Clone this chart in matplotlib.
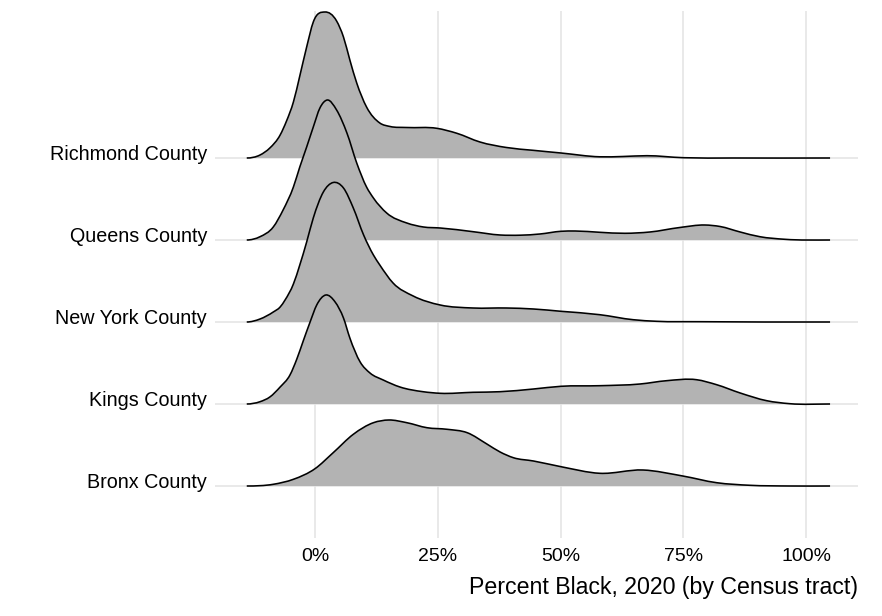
import numpy as np
import matplotlib
matplotlib.use("Agg")
import matplotlib.pyplot as plt
from matplotlib.path import Path
from matplotlib.patches import PathPatch
import matplotlib.transforms as mtransforms

plt.rcParams['font.family'] = ['Liberation Sans', 'DejaVu Sans']

# ---- data ----
counties = ["Bronx County", "Kings County", "New York County", "Queens County", "Richmond County"]
tick_values = [0, 25, 50, 75, 100]
tick_labels = ["0%", "25%", "50%", "75%", "100%"]
x_title = "Percent Black, 2020 (by Census tract)"

# percent Black (x) and estimated density height of each ridge
richmond_x = [-13.9, -11.2, -9.2, -7.1, -5.8, -4.4, -3.1, -1.7, -0.35, 2.0, 4.4, 5.8, 7.1, 8.5,
              10.5, 13.2, 15.3, 18.7, 24.8, 28.9, 33.6, 39.0, 44.4, 50.1, 58.0, 62.7, 67.6,
              75.0, 85.0, 104.9]
richmond_d = [0, 3, 10, 23, 37, 56, 82, 111, 136, 146, 137, 121, 98, 75,
              51, 35, 31.5, 30.5, 29.7, 24.7, 16, 10.5, 7.7, 5, 1.2, 1.5, 2.3,
              0.3, 0, 0]

queens_x = [-13.9, -11.2, -8.5, -6.5, -4.4, -3.1, -1.7, -0.35, 1.0, 2.5, 4.4, 6.5, 8.5, 10.5,
            11.9, 14.6, 18.7, 22.1, 25.5, 32.2, 37.7, 41.8, 45.8, 50.1, 53.0, 58.0, 63.1,
            68.2, 74.3, 79.4, 82.5, 86.6, 90.6, 95.7, 104.9]
queens_d = [0, 3.3, 13, 30, 53, 73, 93, 113, 132, 140, 130, 107, 77, 53,
            42, 27, 17, 13, 12, 8.3, 5, 4.8, 6, 8.7, 9, 7.7, 6.7,
            8, 12.5, 15, 13.5, 8, 3.3, 0.7, 0]

newyork_x = [-13.9, -11.2, -8.5, -7.1, -6.1, -4.4, -3.1, -1.7, -0.35, 1.7, 3.7, 5.8, 7.8, 9.9,
             11.9, 13.2, 15.9, 20.0, 25.5, 32.2, 39.0, 44.5, 50.1, 58.0, 64.8, 69.6, 78.4, 104.9]
newyork_d = [0, 3, 10, 15, 22, 38, 57, 80, 104, 130, 139.5, 134, 114, 87,
             67, 57, 39, 26, 17, 14, 14, 13, 10.7, 7.3, 2.3, 0.7, 0.3, 0]

kings_x = [-13.9, -11.2, -9.2, -7.1, -5.1, -3.7, -2.4, -1.0, 0.35, 2.2, 4.1, 5.8, 7.1, 9.2,
           11.2, 13.9, 17.3, 22.0, 25.5, 32.2, 37.7, 44.5, 50.1, 58.0, 66.2, 71.6, 77.7,
           81.8, 86.6, 92.0, 96.7, 104.9]
kings_d = [0, 2.3, 7, 17, 29, 45, 63, 82, 99, 109, 102, 86, 66, 42,
           31, 24, 17, 12.3, 10.7, 11.7, 12.3, 15, 17.7, 18.3, 20, 23.3, 24.3,
           19.3, 11, 3.3, 0.3, 0]

bronx_x = [-13.9, -8.5, -4.4, 0.0, 3.7, 7.8, 11.9, 15.0, 18.7, 22.8, 26.9, 31.0, 35.1, 37.7,
           40.4, 44.5, 50.1, 58.0, 66.8, 74.9, 81.8, 88.6, 96.7, 104.9]
bronx_d = [0, 1.7, 6.7, 17.3, 33.3, 51.7, 63.3, 66, 63.3, 58.3, 56.7, 53.3, 41.7, 34,
           28.3, 25, 19.3, 12.7, 16, 10, 3.3, 0.7, 0, 0]

series = [(bronx_x, bronx_d), (kings_x, kings_d), (newyork_x, newyork_d),
          (queens_x, queens_d), (richmond_x, richmond_d)]

# ---- style ----
RIDGE_SCALE = 1 / 82.0
FILL = "#B3B3B3"
GRID = "#E3E3E3"


def smooth_bezier(x, y):
    """Cubic Bezier path through the points using parabolic (Bessel) tangents."""
    x = np.asarray(x, float)
    y = np.asarray(y, float)
    n = len(x)
    h = np.diff(x)
    delta = np.diff(y) / h
    m = np.zeros(n)
    for k in range(1, n - 1):
        m[k] = (h[k] * delta[k - 1] + h[k - 1] * delta[k]) / (h[k - 1] + h[k])
    verts = [(x[0], y[0])]
    codes = [Path.MOVETO]
    for i in range(n - 1):
        verts += [(x[i] + h[i] / 3, y[i] + m[i] * h[i] / 3),
                  (x[i + 1] - h[i] / 3, y[i + 1] - m[i + 1] * h[i] / 3),
                  (x[i + 1], y[i + 1])]
        codes += [Path.CURVE4] * 3
    return verts, codes


W, H = 882, 616
fig = plt.figure(figsize=(W / 100, H / 100), dpi=100)
ax = fig.add_axes([215 / W, 1 - 538 / H, (858 - 215) / W, (538 - 11) / H])
ax.set_xlim(-100 / 4.91, 543 / 4.91)
ax.set_ylim(1 - 52 / 82, 5 + 147 / 82)

ypos = np.arange(1, len(counties) + 1)

for xv in tick_values:
    ax.axvline(xv, color=GRID, lw=1.1, zorder=0)
for yv in ypos:
    ax.axhline(yv, color=GRID, lw=1.1, zorder=0)

for i, ((xs, ds), base) in enumerate(zip(series, ypos)):
    yy = base + np.asarray(ds) * RIDGE_SCALE
    verts, codes = smooth_bezier(xs, yy)
    z = 2 + (len(series) - i)
    fill_verts = verts + [(xs[-1], base), (xs[0], base), verts[0]]
    fill_codes = codes + [Path.LINETO, Path.LINETO, Path.CLOSEPOLY]
    ax.add_patch(PathPatch(Path(fill_verts, fill_codes), facecolor=FILL, edgecolor="none", zorder=z))
    ax.add_patch(PathPatch(Path(verts, codes), facecolor="none", edgecolor="black", lw=1.15, zorder=z + 0.5,
                           capstyle="butt", joinstyle="round"))

ax.set_xticks(tick_values, tick_labels)
ax.set_yticks([])
ax.tick_params(axis="x", length=0, pad=7, labelsize=14, colors="black")
for s in ax.spines.values():
    s.set_visible(False)

off = mtransforms.ScaledTranslation(-8 / 100, -2 / 100, fig.dpi_scale_trans)
trans = mtransforms.blended_transform_factory(ax.transAxes, ax.transData) + off
for name, yv in zip(counties, ypos):
    ax.text(0, yv, name, transform=trans, ha="right", va="baseline", fontsize=14.2, color="black")

ax.set_xlabel(x_title, loc="right", fontsize=16.7, labelpad=8, color="black")

fig.savefig("out.png", dpi=100)
